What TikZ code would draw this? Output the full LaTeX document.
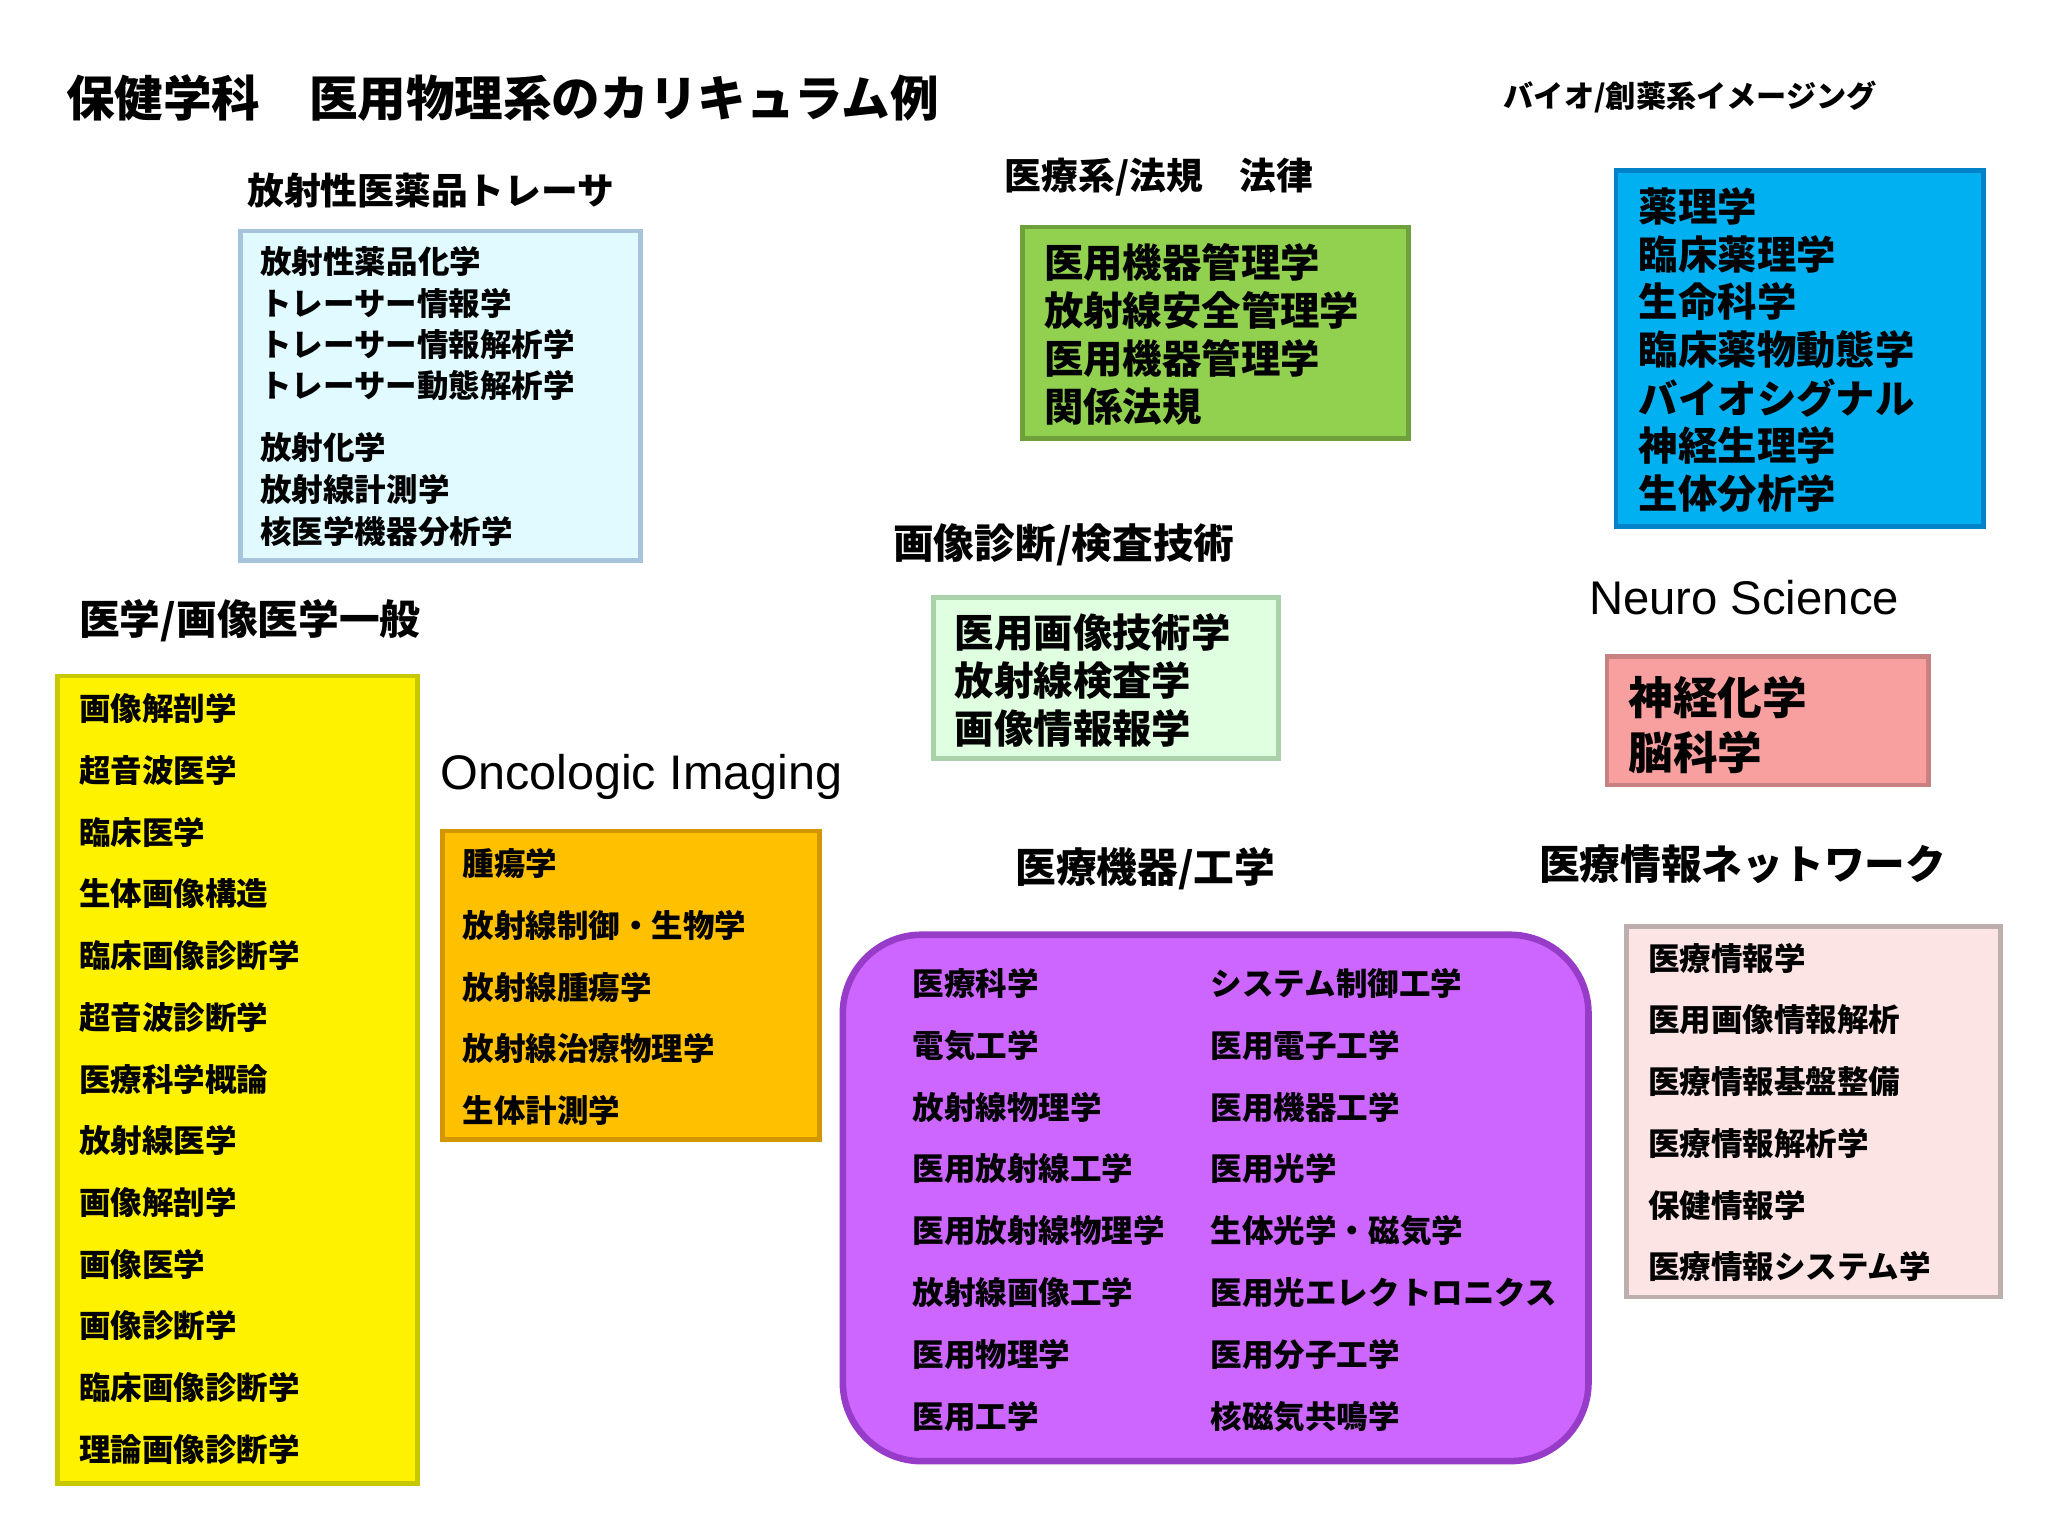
\documentclass[tikz,border=0pt]{standalone}
\usepackage{fontspec}
\setmainfont{Noto Sans CJK JP}
\newfontfamily\lat{Liberation Sans}
\begin{document}
\begin{tikzpicture}[x=0.5pt,y=-0.5pt,
  bx/.style={line width=1.8pt},
  tx/.style={anchor=west,inner sep=0pt,font=\bfseries\fontsize{12}{12}\selectfont},
  tb/.style={anchor=west,inner sep=0pt,font=\bfseries\fontsize{15}{15}\selectfont},
  hd/.style={anchor=west,inner sep=0pt,font=\bfseries\fontsize{15.5}{16}\selectfont}]
\useasboundingbox (0,0) rectangle (1560,1170);
\fill[white] (0,0) rectangle (1560,1170);
\node[anchor=west,inner sep=0pt,font=\bfseries\fontsize{18.5}{19}\selectfont] (title) at (50,75) {保健学科　医用物理系のカリキュラム例};
\node[anchor=west,inner sep=0pt,font=\bfseries\fontsize{11.5}{12}\selectfont] (bio) at (1145,74) {バイオ/創薬系イメージング};
\node[hd,font=\bfseries\fontsize{14}{14}\selectfont] (h1) at (188,145) {放射性医薬品トレーサ};
\node[hd,font=\bfseries\fontsize{14}{14}\selectfont] (h2) at (765,135) {医療系/法規　法律};
\node[hd] (h3) at (680,415) {画像診断/検査技術};
\node[anchor=west,inner sep=0pt,font=\lat\fontsize{18}{18}\selectfont] (h4) at (1210,455) {Neuro Science};
\node[hd] (h5) at (60,473) {医学/画像医学一般};
\node[anchor=west,inner sep=0pt,font=\lat\fontsize{18.5}{19}\selectfont] (h6) at (335,592) {Oncologic Imaging};
\node[hd] (h7) at (773,662) {医療機器/工学};
\node[hd] (h8) at (1172,658) {医療情報ネットワーク};
% boxes
\draw[bx,fill={rgb,255:red,224;green,250;blue,255},draw={rgb,255:red,168;green,196;blue,220}] (183,176) rectangle (488,427);
\draw[bx,fill={rgb,255:red,146;green,208;blue,80},draw={rgb,255:red,110;green,160;blue,60}] (779,173) rectangle (1073,334);
\draw[bx,fill={rgb,255:red,0;green,176;blue,240},draw={rgb,255:red,0;green,130;blue,200}] (1231,130) rectangle (1511,401);
\draw[bx,fill={rgb,255:red,224;green,255;blue,224},draw={rgb,255:red,170;green,210;blue,170}] (711,455) rectangle (974,578);
\draw[bx,fill={rgb,255:red,248;green,160;blue,160},draw={rgb,255:red,200;green,130;blue,130}] (1224,500) rectangle (1469,598);
\draw[bx,fill=yellow,draw={rgb,255:red,200;green,200;blue,0}] (44,515) rectangle (318,1130);
\draw[bx,fill={rgb,255:red,255;green,192;blue,0},draw={rgb,255:red,210;green,150;blue,0}] (337,633) rectangle (624,868);
\draw[line width=2.5pt,fill={rgb,255:red,204;green,102;blue,255},draw={rgb,255:red,150;green,60;blue,200},rounded corners=30pt] (642,712) rectangle (1210,1113);
\draw[bx,fill={rgb,255:red,252;green,228;blue,228},draw={rgb,255:red,190;green,175;blue,175}] (1239,706) rectangle (1524,988);
% texts
\foreach \t [count=\i] in {放射性薬品化学,トレーサー情報学,トレーサー情報解析学,トレーサー動態解析学}
  \node[tx] (a\i) at (198,168+31.5*\i) {\t};
\foreach \t [count=\i] in {放射化学,放射線計測学,核医学機器分析学}
  \node[tx] (b\i) at (198,309+32*\i) {\t};
\foreach \t [count=\i] in {医用機器管理学,放射線安全管理学,医用機器管理学,関係法規}
  \node[tb] (c\i) at (795,163+36.7*\i) {\t};
\foreach \t [count=\i] in {薬理学,臨床薬理学,生命科学,臨床薬物動態学,バイオシグナル,神経生理学,生体分析学}
  \node[tb] (d\i) at (1248,120.5+36.5*\i) {\t};
\foreach \t [count=\i] in {医用画像技術学,放射線検査学,画像情報報学}
  \node[tb] (e\i) at (727,445.5+36.5*\i) {\t};
\node[tb,font=\bfseries\fontsize{17}{17}\selectfont] (f1) at (1240,531) {神経化学};
\node[tb,font=\bfseries\fontsize{17}{17}\selectfont] (f2) at (1240,573) {脳科学};
\foreach \t [count=\i] in {画像解剖学,超音波医学,臨床医学,生体画像構造,臨床画像診断学,超音波診断学,医療科学概論,放射線医学,画像解剖学,画像医学,画像診断学,臨床画像診断学,理論画像診断学}
  \node[tx] (g\i) at (60,493+47*\i) {\t};
\foreach \t [count=\i] in {腫瘍学,放射線制御・生物学,放射線腫瘍学,放射線治療物理学,生体計測学}
  \node[tx] (o\i) at (352,611+47*\i) {\t};
\foreach \t [count=\i] in {医療科学,電気工学,放射線物理学,医用放射線工学,医用放射線物理学,放射線画像工学,医用物理学,医用工学}
  \node[tx] (p\i) at (695,702+47.1*\i) {\t};
\foreach \t [count=\i] in {システム制御工学,医用電子工学,医用機器工学,医用光学,生体光学・磁気学,医用光エレクトロニクス,医用分子工学,核磁気共鳴学}
  \node[tx] (q\i) at (922,702+47.1*\i) {\t};
\foreach \t [count=\i] in {医療情報学,医用画像情報解析,医療情報基盤整備,医療情報解析学,保健情報学,医療情報システム学}
  \node[tx] (r\i) at (1255,683+47*\i) {\t};
\end{tikzpicture}
\end{document}
